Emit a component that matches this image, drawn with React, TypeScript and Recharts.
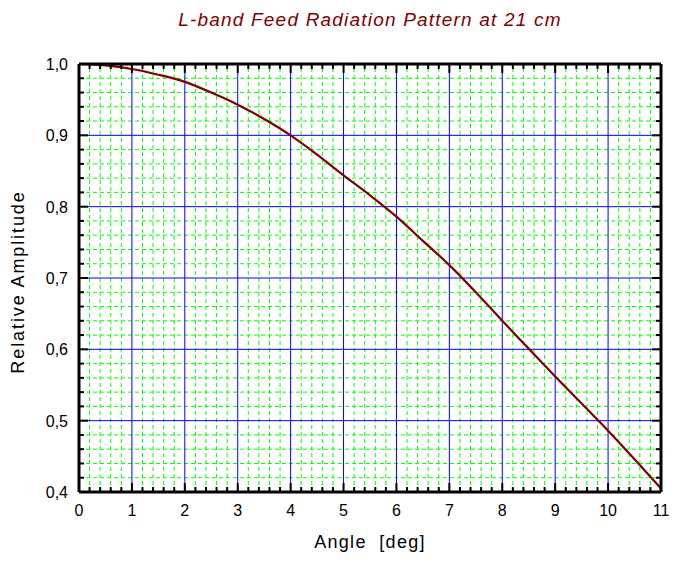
import React from 'react';
import { LineChart, Line, XAxis, YAxis, ReferenceLine } from 'recharts';

// angle in degrees, relative amplitude
const angles = [0, 0.5, 1, 1.5, 2, 2.5, 3, 3.5, 4, 4.5, 5, 5.5, 6, 6.5, 7, 7.5, 8, 8.5, 9, 9.5, 10, 10.5, 11];
const amplitude = [1.0, 0.998, 0.993, 0.985, 0.975, 0.96, 0.943, 0.923, 0.9, 0.873, 0.844, 0.816, 0.786, 0.752, 0.718, 0.68, 0.64, 0.601, 0.562, 0.524, 0.486, 0.446, 0.405];

const xTicks = [0, 1, 2, 3, 4, 5, 6, 7, 8, 9, 10, 11];
const yTicks = [0.4, 0.5, 0.6, 0.7, 0.8, 0.9, 1.0];

const FONT = '"Liberation Sans", Arial, sans-serif';

// 5 sub-divisions per major step
function subdivide(ticks: number[]) {
  const out: number[] = [];
  for (let i = 0; i < ticks.length - 1; i++) {
    const step = (ticks[i + 1] - ticks[i]) / 5;
    for (let k = 0; k < 5; k++) out.push(+(ticks[i] + k * step).toFixed(4));
  }
  out.push(ticks[ticks.length - 1]);
  return out;
}

const xAll = subdivide(xTicks);
const yAll = subdivide(yTicks);
const isMajor = (v: number, majors: number[]) => majors.some((m) => Math.abs(m - v) < 1e-6);
const xMinor = xAll.filter((v) => !isMajor(v, xTicks));
const yMinor = yAll.filter((v) => !isMajor(v, yTicks));

const data = angles.map((a, i) => ({ angle: a, amp: amplitude[i] }));

const fmtY = (v: number) => v.toFixed(1).replace('.', ',');

function BottomTick({ x, y, payload }: any) {
  const major = isMajor(payload.value, xTicks);
  return (
    <g>
      <line x1={x} y1={y} x2={x} y2={y - (major ? 9 : 5)} stroke="#000" strokeWidth={2} />
      {major && (
        <text x={x} y={y + 24} textAnchor="middle" fontSize={16} fontFamily={FONT} fill="#000">
          {payload.value}
        </text>
      )}
    </g>
  );
}

function TopTick({ x, y, payload }: any) {
  const major = isMajor(payload.value, xTicks);
  return <line x1={x} y1={y} x2={x} y2={y + (major ? 9 : 5)} stroke="#000" strokeWidth={2} />;
}

function LeftTick({ x, y, payload }: any) {
  const major = isMajor(payload.value, yTicks);
  return (
    <g>
      <line x1={x} y1={y} x2={x + (major ? 9 : 5)} y2={y} stroke="#000" strokeWidth={2} />
      {major && (
        <text x={x - 11} y={y + 6} textAnchor="end" fontSize={16} fontFamily={FONT} fill="#000">
          {fmtY(payload.value)}
        </text>
      )}
    </g>
  );
}

function RightTick({ x, y, payload }: any) {
  const major = isMajor(payload.value, yTicks);
  return <line x1={x} y1={y} x2={x - (major ? 9 : 5)} y2={y} stroke="#000" strokeWidth={2} />;
}

const axisLine = { stroke: '#000', strokeWidth: 3 };

export default function App() {
  return (
    <div style={{ position: 'absolute', left: 0, top: 0, width: 680, height: 566, background: '#fff', fontFamily: FONT }}>
      <LineChart width={680} height={566} data={data} margin={{ top: 54, right: 9, bottom: 44, left: 39 }} style={{ position: 'absolute', left: 0, top: 0 }}>
        <XAxis dataKey="angle" type="number" domain={[0, 11]} ticks={xAll} interval={0} height={30} tickSize={0} tickMargin={0} tickLine={false} tick={<BottomTick />} axisLine={axisLine} allowDataOverflow />
        <XAxis xAxisId="top" orientation="top" dataKey="angle" type="number" domain={[0, 11]} ticks={xAll} interval={0} height={10} tickSize={0} tickMargin={0} tickLine={false} tick={<TopTick />} axisLine={axisLine} allowDataOverflow />
        <YAxis type="number" domain={[0.4, 1.0]} ticks={yAll} interval={0} width={40} tickSize={0} tickMargin={0} tickLine={false} tick={<LeftTick />} axisLine={axisLine} allowDataOverflow />
        <YAxis yAxisId="right" orientation="right" type="number" domain={[0.4, 1.0]} ticks={yAll} interval={0} width={10} tickSize={0} tickMargin={0} tickLine={false} tick={<RightTick />} axisLine={axisLine} allowDataOverflow />
        {xMinor.map((v) => (
          <ReferenceLine key={'xm' + v} x={v} stroke="#00ff00" strokeDasharray="4 3" strokeWidth={1} />
        ))}
        {yMinor.map((v) => (
          <ReferenceLine key={'ym' + v} y={v} stroke="#00ff00" strokeDasharray="4 3" strokeWidth={1} />
        ))}
        {xTicks.slice(1, -1).map((v) => (
          <ReferenceLine key={'xM' + v} x={v} stroke="#0000ff" strokeWidth={1} />
        ))}
        {yTicks.slice(1, -1).map((v) => (
          <ReferenceLine key={'yM' + v} y={v} stroke="#0000ff" strokeWidth={1} />
        ))}
        <Line type="monotone" dataKey="amp" stroke="#800000" strokeWidth={2.2} dot={false} isAnimationActive={false} />
        <Line xAxisId="top" yAxisId="right" type="monotone" dataKey="amp" stroke="none" dot={false} legendType="none" isAnimationActive={false} />
      </LineChart>
      <div style={{ position: 'absolute', left: 0, width: 680, top: 9, textAlign: 'center', paddingLeft: 60, boxSizing: 'border-box', fontSize: 19, fontStyle: 'italic', color: '#800000', letterSpacing: 1.2 }}>
        L-band Feed Radiation Pattern at 21 cm
      </div>
      <div style={{ position: 'absolute', left: 270, width: 200, top: 532, textAlign: 'center', fontSize: 18, color: '#000', whiteSpace: 'pre', letterSpacing: 1.3 }}>
        {'Angle  [deg]'}
      </div>
      <div style={{ position: 'absolute', left: 18, top: 282, transform: 'translate(-50%, -50%) rotate(-90deg)', fontSize: 18, color: '#000', whiteSpace: 'nowrap', letterSpacing: 1.9 }}>
        Relative Amplitude
      </div>
    </div>
  );
}
